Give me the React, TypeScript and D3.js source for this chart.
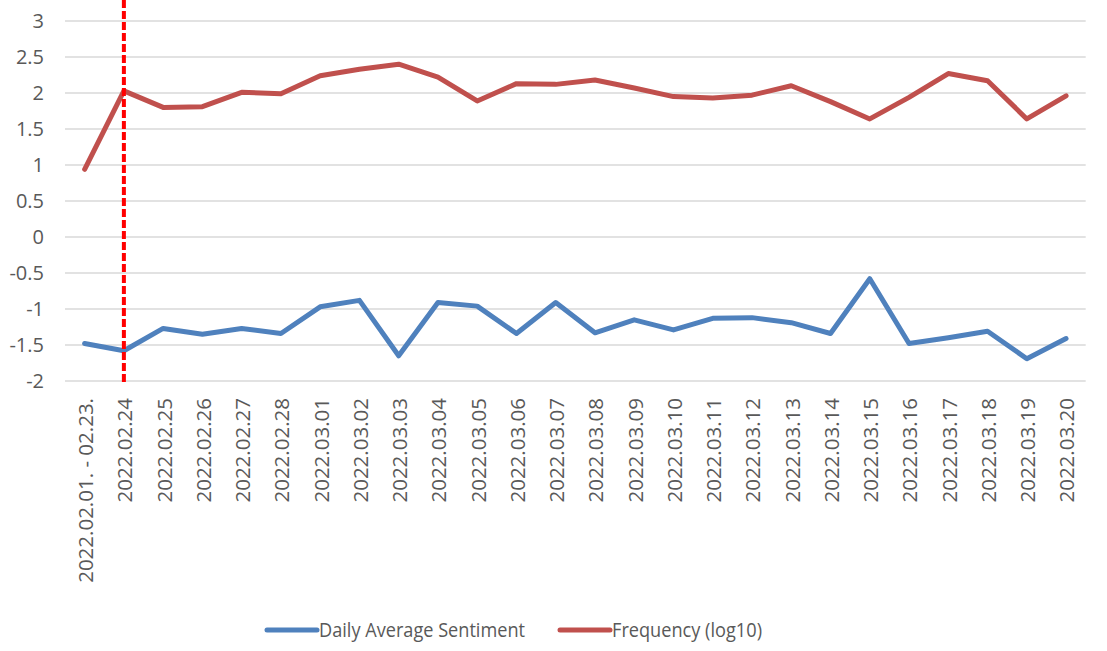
import * as d3 from 'd3';

const categories = [
  '2022.02.01. - 02.23.',
  '2022.02.24',
  '2022.02.25',
  '2022.02.26',
  '2022.02.27',
  '2022.02.28',
  '2022.03.01',
  '2022.03.02',
  '2022.03.03',
  '2022.03.04',
  '2022.03.05',
  '2022.03.06',
  '2022.03.07',
  '2022.03.08',
  '2022.03.09',
  '2022.03.10',
  '2022.03.11',
  '2022.03.12',
  '2022.03.13',
  '2022.03.14',
  '2022.03.15',
  '2022.03.16',
  '2022.03.17',
  '2022.03.18',
  '2022.03.19',
  '2022.03.20'
];

const sentiment = [
  -1.48, -1.58, -1.27, -1.35, -1.27, -1.34, -0.97, -0.88, -1.65, -0.91, -0.96, -1.34, -0.91,
  -1.33, -1.15, -1.29, -1.13, -1.12, -1.19, -1.34, -0.58, -1.48, -1.4, -1.31, -1.69, -1.41
];

const frequency = [
  0.94, 2.03, 1.8, 1.81, 2.01, 1.99, 2.24, 2.33, 2.4, 2.22, 1.89, 2.13, 2.12, 2.18, 2.07, 1.95,
  1.93, 1.97, 2.1, 1.88, 1.64, 1.94, 2.27, 2.17, 1.64, 1.96
];

const yTicks = [3, 2.5, 2, 1.5, 1, 0.5, 0, -0.5, -1, -1.5, -2];

const markerCategory = '2022.02.24';

const seriesList = [
  { name: 'Daily Average Sentiment', values: sentiment, color: '#4f81bd' },
  { name: 'Frequency (log10)', values: frequency, color: '#c0504d' }
];

const width = 1107;
const height = 651;
const plot = { left: 65, right: 1085.7, top: 21, bottom: 381 };
const textColor = '#595959';
const font = "'Open Sans', sans-serif";

export default function App() {
  const xScale = d3
    .scalePoint<string>()
    .domain(categories)
    .range([plot.left, plot.right])
    .padding(0.5);

  const yScale = d3.scaleLinear().domain([-2, 3]).range([plot.bottom, plot.top]);

  const lineGen = (values: number[]) =>
    d3
      .line<number>()
      .x((_, i) => xScale(categories[i])!)
      .y((v) => yScale(v))(values)!;

  const markerX = xScale(markerCategory)!;

  // legend slots: line start, text start, text length
  const legendItems = [
    { x: 267, textX: 319, textLen: 206 },
    { x: 560, textX: 612, textLen: 150 }
  ];

  return (
    <svg
      width={width}
      height={height}
      style={{ position: 'absolute', left: 0, top: 0, background: '#fff' }}
      fontFamily={font}
    >
      <rect width={width} height={height} fill="#fff" />

      {/* grid + y labels */}
      <g>
        {yTicks.map((t) => (
          <g key={t}>
            <line
              x1={plot.left}
              x2={plot.right}
              y1={yScale(t)}
              y2={yScale(t)}
              stroke="#d9d9d9"
              strokeWidth={1.5}
            />
            <text
              x={44}
              y={yScale(t)}
              dy="0.36em"
              textAnchor="end"
              fontSize={20}
              fill={textColor}
            >
              {t}
            </text>
          </g>
        ))}
      </g>

      {/* x labels */}
      <g>
        {categories.map((c) => (
          <text
            key={c}
            transform={`translate(${xScale(c)! + 1}, 398) rotate(-90)`}
            dy="0.36em"
            textAnchor="end"
            fontSize={20.5}
            fill={textColor}
          >
            {c}
          </text>
        ))}
      </g>

      {/* series */}
      {seriesList.map((s) => (
        <path
          key={s.name}
          d={lineGen(s.values)}
          fill="none"
          stroke={s.color}
          strokeWidth={5}
          strokeLinejoin="round"
          strokeLinecap="round"
        />
      ))}

      {/* marker line */}
      <line
        x1={markerX}
        x2={markerX}
        y1={0}
        y2={384}
        stroke="#ff0000"
        strokeWidth={4}
        strokeDasharray="8 3"
      />

      {/* legend */}
      <g>
        {seriesList.map((s, i) => (
          <g key={s.name}>
            <line
              x1={legendItems[i].x}
              x2={legendItems[i].x + 50}
              y1={630}
              y2={630}
              stroke={s.color}
              strokeWidth={5}
              strokeLinecap="round"
            />
            <text
              x={legendItems[i].textX}
              y={630}
              dy="0.36em"
              fontSize={20.5}
              fill={textColor}
              textLength={legendItems[i].textLen}
              lengthAdjust="spacingAndGlyphs"
            >
              {s.name}
            </text>
          </g>
        ))}
      </g>
    </svg>
  );
}
